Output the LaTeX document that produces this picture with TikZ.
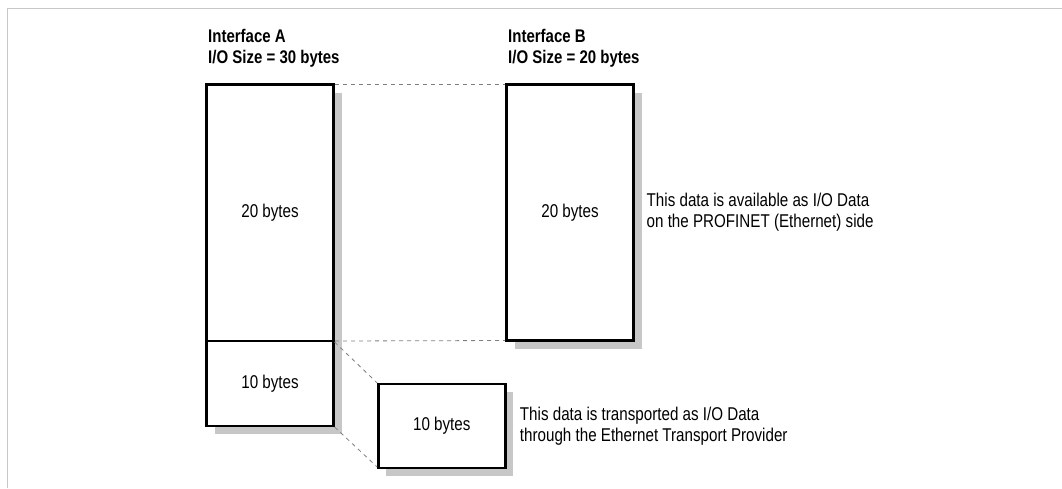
\documentclass[tikz,border=0pt]{standalone}
\usepackage{fontspec}
\setmainfont{Liberation Sans}[FakeStretch=0.82]
\usetikzlibrary{positioning,shadows}

\tikzset{
  blk/.style={draw, line width=2.8pt, fill=white, outer sep=0pt, inner sep=0pt,
    minimum width=127pt, font=\fontsize{18.5}{21}\selectfont,
    drop shadow={shadow xshift=8pt, shadow yshift=-8pt, fill=black!22, opacity=1}},
  lbl/.style={inner sep=0pt, align=left, font=\fontsize{18.5}{21}\selectfont},
  hd/.style={lbl, font=\fontsize{18.3}{21}\selectfont\bfseries},
  link/.style={draw=black!50, line width=0.8pt, dash pattern=on 4pt off 4pt,
    shorten <=1.5pt, shorten >=1.5pt},
}

\begin{document}
\begin{tikzpicture}[x=1pt, y=-1pt]
\useasboundingbox (0,0) rectangle (1062,488);
\draw[black!22, line width=1pt] (7,488) -- (7,8) -- (1062,8);

% the two interfaces
\node[hd, anchor=north west] (ahd) at (208,29.5) {Interface A\\I/O Size = 30 bytes};
\node[hd, anchor=north west] (bhd) at (508,29.5) {Interface B\\I/O Size = 20 bytes};

\node[blk, minimum height=256.5pt] (a20) at (270,212.75) {20 bytes};
\node[blk, minimum height=85pt, below=0pt of a20] (a10) {10 bytes};
\node[blk, minimum height=256pt] (b20) at (570,212.5) {20 bytes};
\node[blk, minimum height=84pt] (c10) at (441.75,426) {10 bytes};

\node[lbl, right=13pt of b20] (bnote) {This data is available as I/O Data\\on the PROFINET (Ethernet) side};
\node[lbl, right=14.5pt of c10] (cnote) {This data is transported as I/O Data\\through the Ethernet Transport Provider};

\draw[link] (a20.north east) -- (b20.north west);
\draw[link] (a20.south east) -- (b20.south west);
\draw[link] (a10.north east) -- (c10.north west);
\draw[link] (a10.south east) -- (c10.south west);
\end{tikzpicture}
\end{document}
